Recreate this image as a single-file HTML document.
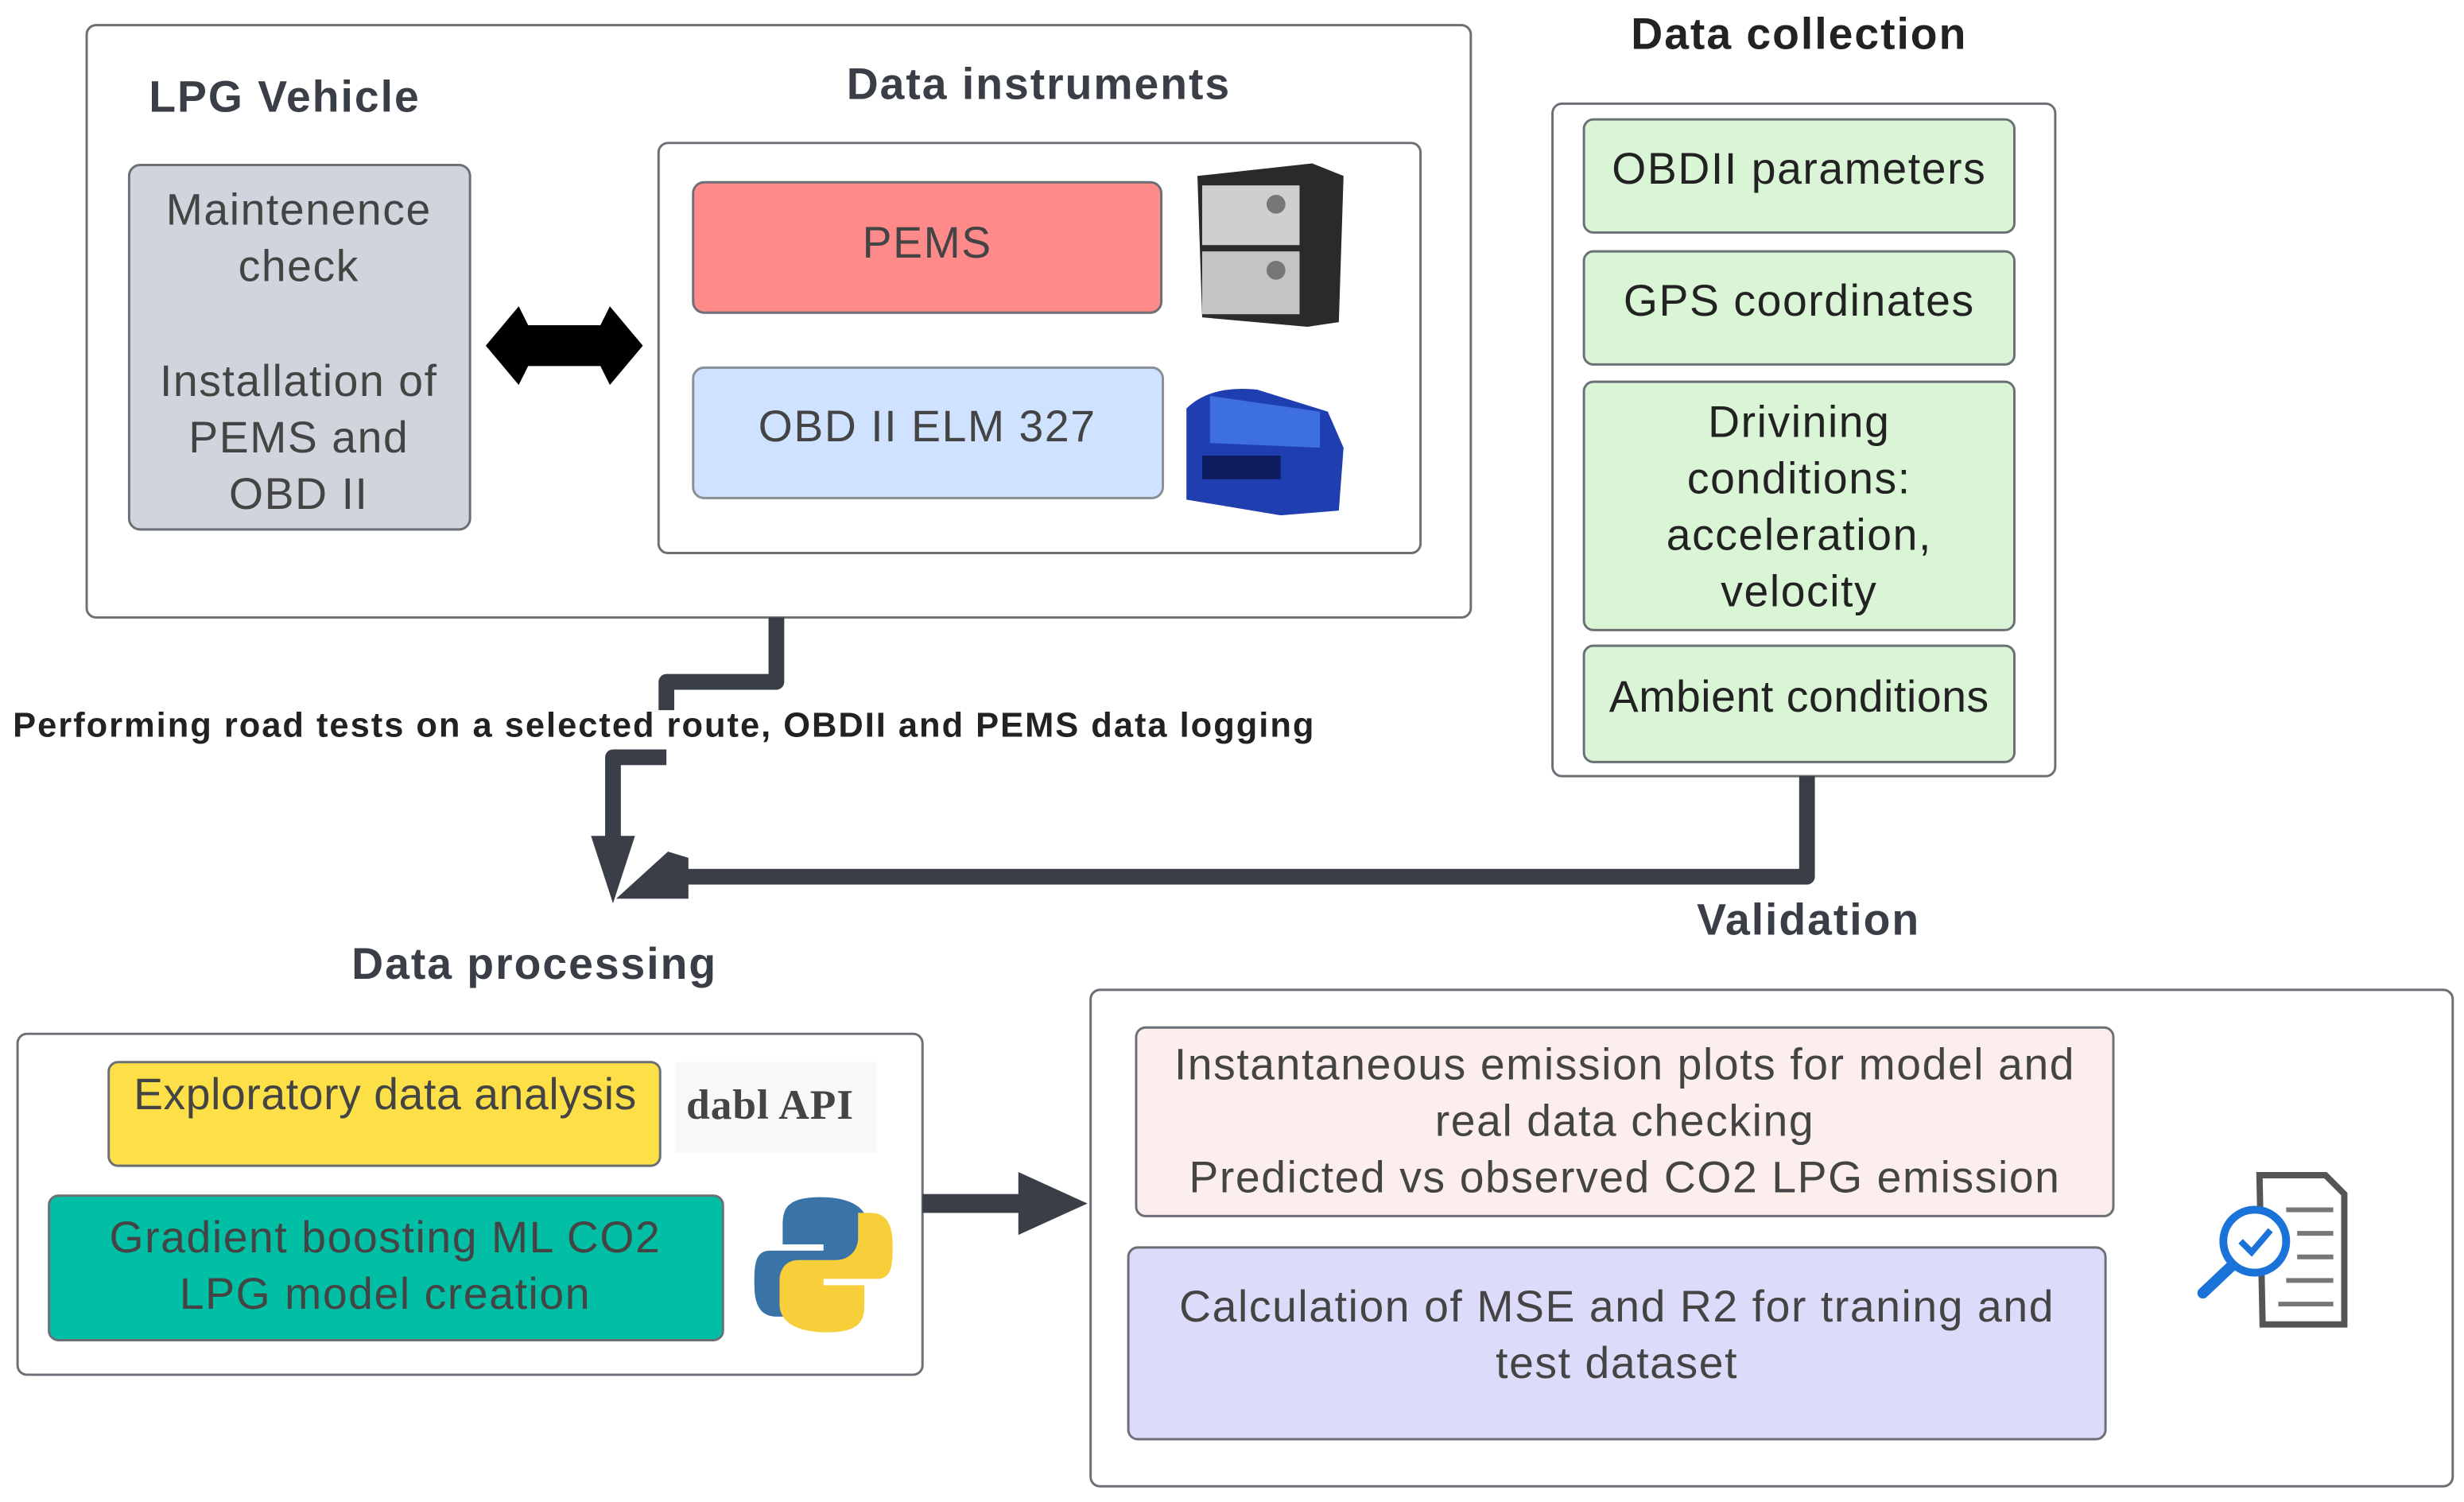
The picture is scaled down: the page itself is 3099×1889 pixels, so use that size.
<!DOCTYPE html>
<html><head><meta charset="utf-8"><style>html,body{margin:0;padding:0;background:#fff}svg{display:block}</style></head>
<body>
<svg width="3099" height="1889" viewBox="0 0 1568 956" xmlns="http://www.w3.org/2000/svg" font-family="Liberation Sans, sans-serif">
<rect width="1568" height="956" fill="#fff"/>
<rect x="55" y="16" width="881" height="377" rx="6" fill="#fff" stroke="#6b6f76" stroke-width="1.5"/>
<g font-size="28" font-weight="bold" fill="#3a3f47" text-anchor="middle" letter-spacing="1">
<text x="181" y="71">LPG Vehicle</text>
<text x="661" y="63">Data instruments</text>
<text x="1145" y="31" fill="#222">Data collection</text>
<text x="1151" y="595">Validation</text>
<text x="340" y="623">Data processing</text>
</g>
<rect x="82" y="105" width="217" height="232" rx="7" fill="#d0d5dd" stroke="#6b6f76" stroke-width="1.5"/>
<g font-size="28" fill="#444" text-anchor="middle" letter-spacing="0.8">
<text x="190" y="143">Maintenence</text><text x="190" y="179">check</text>
<text x="190" y="252">Installation of</text><text x="190" y="288">PEMS and</text><text x="190" y="324">OBD II</text>
</g>
<path d="M309 220 L330 195 L336 207 L382 207 L388 195 L409 220 L388 245 L382 233 L336 233 L330 245 Z" fill="#000"/>
<rect x="419" y="91" width="485" height="261" rx="6" fill="#fff" stroke="#6b6f76" stroke-width="1.5"/>
<rect x="441" y="116" width="298" height="83" rx="7" fill="#ff8a8a" stroke="#6b6f76" stroke-width="1.5"/>
<rect x="441" y="234" width="299" height="83" rx="7" fill="#cfe2ff" stroke="#8a8f96" stroke-width="1.5"/>
<g font-size="28" fill="#444" text-anchor="middle" letter-spacing="0.8">
<text x="590" y="164">PEMS</text>
<text x="590" y="281">OBD II ELM 327</text>
</g>
<path d="M762 112 L835 104 L855 112 L852 205 L832 208 L765 202 Z" fill="#2a2a2a"/>
<rect x="765" y="118" width="62" height="38" fill="#cfcfcf"/><rect x="765" y="160" width="62" height="40" fill="#c4c4c4"/>
<circle cx="812" cy="130" r="6" fill="#777"/><circle cx="812" cy="172" r="6" fill="#777"/>
<path d="M755 260 Q770 245 800 248 L845 262 L855 285 L852 325 L815 328 L755 318 Z" fill="#1f3fb0"/>
<rect x="765" y="290" width="50" height="15" fill="#0d1d60"/><path d="M770 252 L840 262 L840 285 L770 282 Z" fill="#3d6fe0"/>
<rect x="988" y="66" width="320" height="428" rx="6" fill="#fff" stroke="#6b6f76" stroke-width="1.5"/>
<g fill="#d9f5d6" stroke="#6b6f76" stroke-width="1.5">
<rect x="1008" y="76" width="274" height="72" rx="6"/><rect x="1008" y="160" width="274" height="72" rx="6"/>
<rect x="1008" y="243" width="274" height="158" rx="6"/><rect x="1008" y="411" width="274" height="74" rx="6"/>
</g>
<g font-size="28" fill="#222" text-anchor="middle" letter-spacing="0.8">
<text x="1145" y="117">OBDII parameters</text><text x="1145" y="201">GPS coordinates</text>
<text x="1145" y="278">Drivining</text><text x="1145" y="314">conditions:</text><text x="1145" y="350">acceleration,</text><text x="1145" y="386">velocity</text>
<text x="1145" y="453" letter-spacing="0.3">Ambient conditions</text>
</g>
<g fill="none" stroke="#3a3f47" stroke-width="10" stroke-linejoin="round">
<path d="M494 393 L494 434 L424 434 L424 452"/>
<path d="M424 482 L390 482 L390 540"/>
<path d="M1150 494 L1150 558 L425 558"/>
</g>
<path d="M376 532 L404 532 L390 575 Z" fill="#3a3f47"/>
<path d="M438 546 L438 572 L392 572 L425 542 Z" fill="#3a3f47"/>
<text x="8" y="469" font-size="22" font-weight="bold" fill="#222" letter-spacing="1">Performing road tests on a selected route, OBDII and PEMS data logging</text>
<rect x="11" y="658" width="576" height="217" rx="6" fill="#fff" stroke="#6b6f76" stroke-width="1.5"/>
<rect x="69" y="676" width="351" height="66" rx="6" fill="#fde047" stroke="#6b6f76" stroke-width="1.5"/>
<rect x="430" y="676" width="128" height="58" fill="#f8f8f8"/>
<text x="490" y="712" font-size="27" font-weight="bold" font-family="Liberation Serif, serif" fill="#444" text-anchor="middle" letter-spacing="0.5">dabl API</text>
<rect x="31" y="761" width="429" height="92" rx="6" fill="#00bfa5" stroke="#6b6f76" stroke-width="1.5"/>
<g font-size="28" fill="#444" text-anchor="middle" letter-spacing="0.8">
<text x="245" y="706" letter-spacing="0.3">Exploratory data analysis</text>
<text x="245" y="797">Gradient boosting ML CO2</text><text x="245" y="833">LPG model creation</text></g>
<path d="M522 762 C500 762 498 770 498 780 L498 792 L524 792 L524 796 L490 796 C480 796 480 806 480 818 C480 832 485 838 494 838 L502 838 L502 822 C502 814 508 808 516 808 L540 808 C548 808 552 802 552 795 L552 780 C552 768 540 762 522 762 Z" fill="#3a73a8"/>
<path d="M526 848 C548 848 550 840 550 830 L550 818 L524 818 L524 814 L558 814 C568 814 568 804 568 792 C568 778 563 772 554 772 L546 772 L546 788 C546 796 540 802 532 802 L508 802 C500 802 496 808 496 815 L496 830 C496 842 508 848 526 848 Z" fill="#f7cf3a"/>
<rect x="587" y="760" width="64" height="12" fill="#3a3f47"/>
<path d="M648 746 L692 766 L648 786 Z" fill="#3a3f47"/>
<rect x="694" y="630" width="867" height="316" rx="6" fill="#fff" stroke="#6b6f76" stroke-width="1.5"/>
<rect x="723" y="654" width="622" height="120" rx="6" fill="#fdeeee" stroke="#6b6f76" stroke-width="1.5"/>
<rect x="718" y="794" width="622" height="122" rx="6" fill="#dcdcfa" stroke="#6b6f76" stroke-width="1.5"/>
<g font-size="28" fill="#444" text-anchor="middle" letter-spacing="0.8">
<text x="1034" y="687">Instantaneous emission plots for model and</text><text x="1034" y="723">real data checking</text><text x="1034" y="759">Predicted vs observed CO2 LPG emission</text>
<text x="1029" y="841">Calculation of MSE and R2 for traning and</text><text x="1029" y="877">test dataset</text></g>
<path d="M1438 748 L1480 748 L1492 760 L1492 843 L1440 843 Z" fill="#fff" stroke="#555" stroke-width="4"/>
<g stroke="#777" stroke-width="3"><line x1="1455" y1="770" x2="1485" y2="770"/><line x1="1462" y1="785" x2="1485" y2="785"/><line x1="1462" y1="800" x2="1485" y2="800"/><line x1="1455" y1="815" x2="1485" y2="815"/><line x1="1450" y1="830" x2="1485" y2="830"/></g>
<circle cx="1435" cy="790" r="20" fill="#fff" stroke="#1a73d8" stroke-width="5"/>
<path d="M1426 790 L1433 797 L1445 783" fill="none" stroke="#1a73d8" stroke-width="4"/>
<line x1="1420" y1="806" x2="1402" y2="823" stroke="#1a73d8" stroke-width="7" stroke-linecap="round"/>
</svg>
</body></html>
